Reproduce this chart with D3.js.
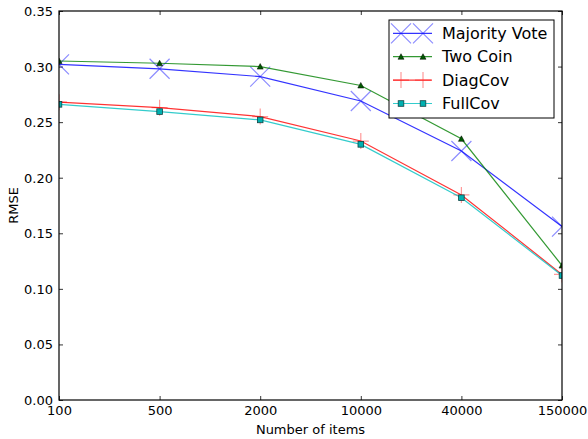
<!DOCTYPE html>
<html><head><meta charset="utf-8">
<script src="https://cdn.jsdelivr.net/npm/d3@7"></script>
<style>body{margin:0;background:#fff}svg{display:block}text{font-family:"DejaVu Sans",sans-serif;fill:#000}</style>
</head><body><svg id="c" width="588" height="439"></svg>
<script>
const categories = ["100","500","2000","10000","40000","150000"];
const majorityVote = [0.302,0.298,0.291,0.269,0.224,0.156];
const twoCoin = [0.305,0.303,0.300,0.283,0.235,0.121];
const diagCov = [0.268,0.263,0.255,0.233,0.1845,0.113];
const fullCov = [0.266,0.2595,0.252,0.230,0.182,0.112];
const yTicks = [0,0.05,0.10,0.15,0.20,0.25,0.30,0.35];
const seriesNames = ["Majority Vote","Two Coin","DiagCov","FullCov"];

const svg = d3.select("#c");
const L=59,R=562,T=11,B=400;
const x = d3.scalePoint().domain(categories).range([L,R]).padding(0);
const y = d3.scaleLinear().domain([0,0.35]).range([B,T]);

const series = [
  {name:seriesNames[0], vals:majorityVote, color:"#0000ff", marker:"x"},
  {name:seriesNames[1], vals:twoCoin, color:"#008000", marker:"tri"},
  {name:seriesNames[2], vals:diagCov, color:"#ff0000", marker:"plus"},
  {name:seriesNames[3], vals:fullCov, color:"#00bfbf", marker:"sq"}
];

svg.append("defs").append("clipPath").attr("id","clip")
  .append("rect").attr("x",L).attr("y",T).attr("width",R-L).attr("height",B-T);

const fmt = d3.format(".2f");
const gl = svg.append("g").attr("transform",`translate(${L},0)`)
  .call(d3.axisLeft(y).tickValues(yTicks).tickSize(-4).tickPadding(6).tickFormat(fmt));
const gr = svg.append("g").attr("transform",`translate(${R},0)`)
  .call(d3.axisRight(y).tickValues(yTicks).tickSize(-4).tickFormat(""));
const gb = svg.append("g").attr("transform",`translate(0,${B})`)
  .call(d3.axisBottom(x).tickSize(-4).tickPadding(8));
const gt = svg.append("g").attr("transform",`translate(0,${T})`)
  .call(d3.axisTop(x).tickSize(-4).tickFormat(""));
[gl,gr,gb,gt].forEach(g=>{
  g.select(".domain").remove();
  g.selectAll(".tick line").attr("stroke","#000").attr("stroke-width",0.8);
  g.selectAll(".tick text").attr("font-size",13).attr("font-family","DejaVu Sans").attr("fill","#222");
});
gl.selectAll(".tick text").attr("dy","0.35em");
gb.selectAll(".tick text").attr("dy","0.75em").attr("y",5);

const line = d3.line().x((d,i)=>x(categories[i])).y(d=>y(d));

function drawMarker(g, type, cx, cy, color){
  if(type==="x"){
    const s=10;
    g.append("path").attr("d",`M${cx-s},${cy-s}L${cx+s},${cy+s}M${cx-s},${cy+s}L${cx+s},${cy-s}`)
      .attr("stroke",color).attr("stroke-opacity",0.45).attr("stroke-width",1.2);
  } else if(type==="plus"){
    const s=8;
    g.append("path").attr("d",`M${cx-s},${cy}L${cx+s},${cy}M${cx},${cy-s}L${cx},${cy+s}`)
      .attr("stroke",color).attr("stroke-opacity",0.4).attr("stroke-width",1.2);
  } else if(type==="tri"){
    const s=3;
    g.append("path").attr("d",`M${cx},${cy-s}L${cx+s},${cy+s*0.85}L${cx-s},${cy+s*0.85}Z`)
      .attr("fill","#005a00").attr("stroke","#000").attr("stroke-width",0.5);
  } else {
    const s=2.8;
    g.append("rect").attr("x",cx-s).attr("y",cy-s).attr("width",2*s).attr("height",2*s)
      .attr("fill","#00b0b0").attr("stroke","#114444").attr("stroke-width",0.8);
  }
}

const plot = svg.append("g").attr("clip-path","url(#clip)");
series.forEach(s=>{
  plot.append("path").datum(s.vals).attr("d",line).attr("fill","none")
    .attr("stroke",s.color).attr("stroke-opacity",0.8).attr("stroke-width",1.2);
  s.vals.forEach((v,i)=>drawMarker(plot,s.marker,x(categories[i]),y(v),s.color));
});

svg.append("rect").attr("x",L).attr("y",T).attr("width",R-L).attr("height",B-T)
  .attr("fill","none").attr("stroke","#000").attr("stroke-width",1.2);

// legend
const lg = svg.append("g");
lg.append("rect").attr("x",389).attr("y",20).attr("width",165).attr("height",98)
  .attr("fill","#fff").attr("stroke","#000").attr("stroke-width",1);
series.forEach((s,i)=>{
  const yy = 33.3 + i*23.4;
  lg.append("line").attr("x1",393).attr("x2",432).attr("y1",yy).attr("y2",yy)
    .attr("stroke",s.color).attr("stroke-opacity",0.8).attr("stroke-width",1.2);
  drawMarker(lg,s.marker,401,yy,s.color);drawMarker(lg,s.marker,423,yy,s.color);
  lg.append("text").attr("x",442).attr("y",yy).attr("dy","0.35em").attr("font-size",16)
    .attr("fill","#222").text(s.name);
});

svg.append("text").attr("x",(L+R)/2).attr("y",434).attr("text-anchor","middle")
  .attr("font-size",13).attr("fill","#222").text("Number of items");
svg.append("text").attr("transform",`translate(18,${(T+B)/2}) rotate(-90)`)
  .attr("text-anchor","middle").attr("font-size",13).attr("fill","#222").text("RMSE");
</script></body></html>
